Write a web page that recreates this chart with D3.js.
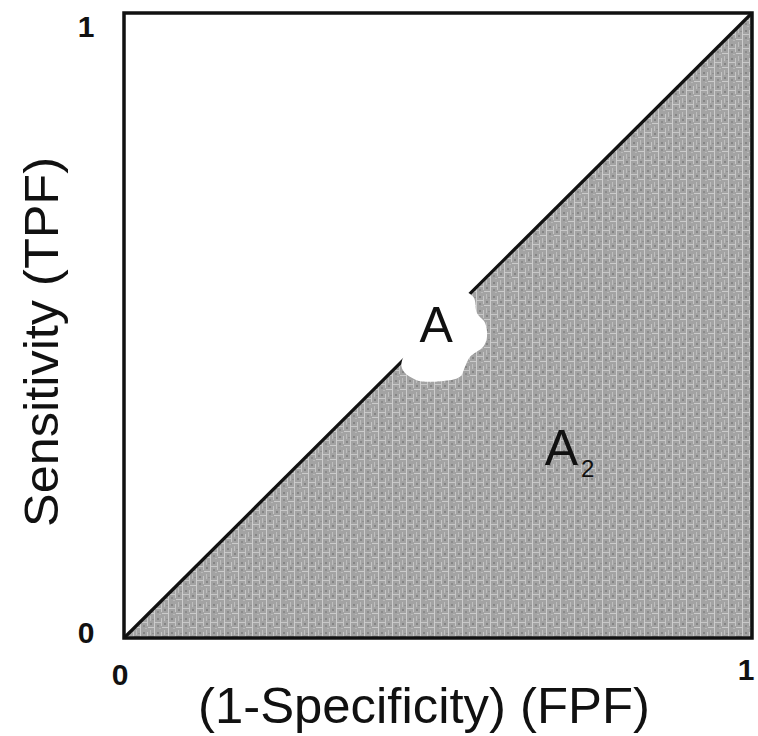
<!DOCTYPE html>
<html><head><meta charset="utf-8">
<script src="https://cdn.jsdelivr.net/npm/d3@7"></script>
<style>html,body{margin:0;padding:0;background:#fff;}svg{display:block;font-family:"Liberation Sans",Arial,sans-serif;}</style>
</head><body>
<svg id="chart" width="758" height="736"></svg>
<script>
// ---- data ----
const xTicks = [0, 1];
const yTicks = [0, 1];
const chanceLine = [[0, 0], [1, 1]];
const areaBelow = [[0, 0], [1, 1], [1, 0]];
const xLabel = "(1-Specificity) (FPF)";
const yLabel = "Sensitivity (TPF)";
const labelA = {text: "A", x: 0.497, y: 0.474};
const labelA2 = {text: "A", sub: "2", x: 0.670, y: 0.277};
const blob = [[0.556,0.546],[0.562,0.520],[0.575,0.504],[0.578,0.482],[0.572,0.466],[0.551,0.450],[0.543,0.434],[0.535,0.418],[0.505,0.411],[0.465,0.413],[0.442,0.434],[0.471,0.493],[0.527,0.557]];

// ---- layout ----
const svg = d3.select("#chart");
const x = d3.scaleLinear().domain([0, 1]).range([124, 752]);
const y = d3.scaleLinear().domain([0, 1]).range([638, 13]);

// texture pattern
const defs = svg.append("defs");
const filt = defs.append("filter").attr("id", "soft");
filt.append("feGaussianBlur").attr("stdDeviation", 0.6);
const pat = defs.append("pattern").attr("id", "tex").attr("patternUnits", "userSpaceOnUse")
  .attr("width", 14).attr("height", 14);
const pg = pat.append("g");
pg.append("rect").attr("width", 14).attr("height", 14).attr("fill", "#a3a3a3");
[[0,0,1,14,"#cdcdcd"],[7,2,1,8,"#c6c6c6"],[1,6,6,1,"#c8c8c8"],[8,11,6,1,"#cbcbcb"],[10,0,1,5,"#bdbdbd"],
 [3,2,2,2,"#858585"],[10,7,2,2,"#858585"],[3,9,2,2,"#8c8c8c"],[12,3,2,1,"#909090"],[5,12,2,1,"#b8b8b8"]]
  .forEach(r => pg.append("rect").attr("x", r[0]).attr("y", r[1]).attr("width", r[2]).attr("height", r[3]).attr("fill", r[4]));

const line = d3.line().x(d => x(d[0])).y(d => y(d[1]));

// shaded area under chance line
svg.append("path").attr("d", line(areaBelow) + "Z").attr("fill", "url(#tex)");

// chance diagonal
svg.append("path").attr("d", line(chanceLine))
  .attr("fill", "none").attr("stroke", "#111").attr("stroke-width", 3.2);

// white blob around label A
svg.append("path").attr("d", d3.line().x(d => x(d[0])).y(d => y(d[1])).curve(d3.curveCatmullRomClosed)(blob))
  .attr("fill", "#fff");

// frame
svg.append("rect").attr("x", x(0)).attr("y", y(1)).attr("width", x(1) - x(0)).attr("height", y(0) - y(1))
  .attr("fill", "none").attr("stroke", "#111").attr("stroke-width", 3.5);

// tick labels
svg.selectAll(".xt").data(xTicks).join("text").attr("class", "xt")
  .attr("x", d => d === 0 ? x(d) - 4 : x(d) - 6).attr("y", d => d === 0 ? 685 : 680)
  .attr("text-anchor", "middle").attr("font-size", 30).attr("font-weight", "bold").attr("fill", "#111")
  .text(d => d);
svg.selectAll(".yt").data(yTicks).join("text").attr("class", "yt")
  .attr("x", 86).attr("y", d => d === 0 ? y(d) + 5 : y(d) + 24)
  .attr("text-anchor", "middle").attr("font-size", 30).attr("font-weight", "bold").attr("fill", "#111")
  .text(d => d);

// axis titles
svg.append("text").attr("x", 424).attr("y", 723).attr("text-anchor", "middle")
  .attr("font-size", 50).attr("fill", "#111").attr("textLength", 452).attr("lengthAdjust", "spacingAndGlyphs")
  .text(xLabel);
svg.append("text").attr("transform", "translate(58,342) rotate(-90)").attr("text-anchor", "middle")
  .attr("font-size", 49).attr("fill", "#111").attr("textLength", 370).attr("lengthAdjust", "spacingAndGlyphs")
  .text(yLabel);

// area labels
svg.append("text").attr("x", x(labelA.x)).attr("y", y(labelA.y)).attr("text-anchor", "middle")
  .attr("font-size", 50).attr("fill", "#111").text(labelA.text);
const t2 = svg.append("text").attr("x", x(labelA2.x)).attr("y", y(labelA2.y)).attr("text-anchor", "start")
  .attr("font-size", 50).attr("fill", "#111");
t2.append("tspan").text(labelA2.text);
t2.append("tspan").attr("font-size", 24).attr("dx", 3).attr("dy", 12).text(labelA2.sub);
</script>
</body></html>
